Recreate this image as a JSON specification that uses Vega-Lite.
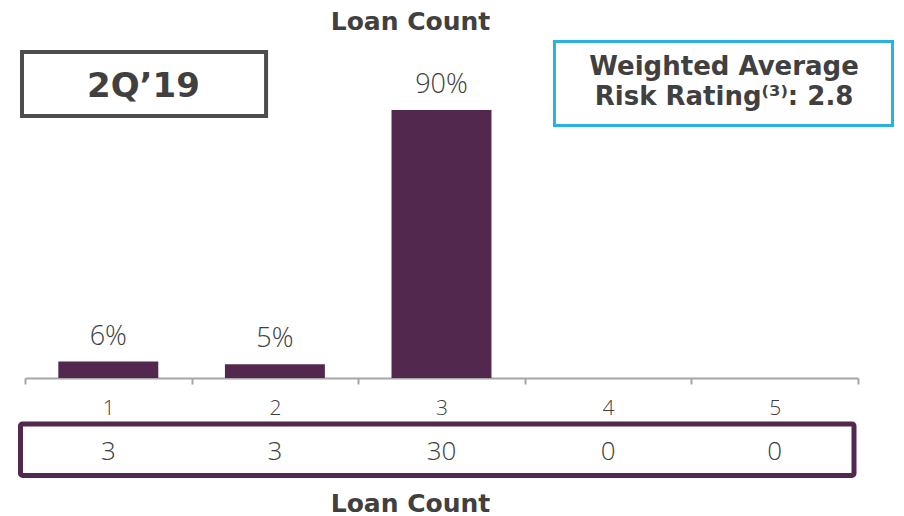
{
  "$schema": "https://vega.github.io/schema/vega-lite/v6.json",
  "width": 833,
  "height": 338,
  "autosize": {"type": "none"},
  "padding": {"left": 25, "top": 40, "right": 46, "bottom": 138},
  "background": "white",
  "title": {
    "text": "Loan Count",
    "font": "DejaVu Sans",
    "fontSize": 25,
    "fontWeight": "bold",
    "color": "#404040",
    "anchor": "middle",
    "frame": "group",
    "dx": -31,
    "offset": -15,
    "baseline": "alphabetic"
  },
  "config": {"view": {"stroke": null}},
  "layer": [
    {
      "data": {
        "values": [
          {"rating": "1", "share": 0.055, "loans": 3},
          {"rating": "2", "share": 0.046, "loans": 3},
          {"rating": "3", "share": 0.9, "loans": 30},
          {"rating": "4", "share": 0, "loans": 0},
          {"rating": "5", "share": 0, "loans": 0}
        ]
      },
      "encoding": {
        "x": {
          "field": "rating",
          "type": "ordinal",
          "scale": {"paddingInner": 0, "paddingOuter": 0},
          "axis": {
            "title": "Loan Count",
            "titleFont": "DejaVu Sans",
            "titleFontSize": 25,
            "titleFontWeight": "bold",
            "titleColor": "#404040",
            "titleX": 385,
            "titleY": 133,
            "titleBaseline": "alphabetic",
            "labelAngle": 0,
            "labelFont": "Open Sans",
            "labelFontWeight": 300,
            "labelFontSize": 21,
            "labelColor": "#404040",
            "labelPadding": 13,
            "domainColor": "#A6A6A6",
            "domainWidth": 2,
            "tickColor": "#A6A6A6",
            "tickWidth": 2,
            "tickSize": 6,
            "tickBand": "extent"
          }
        }
      },
      "layer": [
        {
          "mark": {"type": "bar", "color": "#53284F", "width": {"band": 0.6}},
          "encoding": {
            "y": {"field": "share", "type": "quantitative", "scale": {"domain": [0, 1.135], "nice": false, "zero": false}, "axis": null}
          }
        },
        {
          "transform": [{"filter": "datum.share > 0"}],
          "mark": {"type": "text", "font": "Open Sans", "fontWeight": 300, "fontSize": 27, "color": "#404040", "baseline": "alphabetic", "dy": -17},
          "encoding": {
            "y": {"field": "share", "type": "quantitative", "scale": {"domain": [0, 1.135], "nice": false, "zero": false}, "axis": null},
            "text": {"field": "share", "type": "quantitative", "format": ".0%"}
          }
        },
        {
          "mark": {"type": "text", "font": "Open Sans", "fontWeight": 300, "fontSize": 26, "color": "#404040", "baseline": "alphabetic"},
          "encoding": {
            "y": {"datum": -0.275, "type": "quantitative", "scale": {"domain": [0, 1.135], "nice": false, "zero": false}, "axis": null},
            "text": {"field": "loans", "type": "quantitative"}
          }
        }
      ]
    },
    {
      "data": {"values": [{}]},
      "layer": [
        {
          "mark": {"type": "rect", "filled": false, "stroke": "#4D4D4D", "strokeWidth": 4},
          "encoding": {
            "x": {"datum": 0.482, "type": "quantitative", "scale": {"domain": [0.5, 5.5], "nice": false, "zero": false}, "axis": null},
            "x2": {"datum": 1.947},
            "y": {"datum": 1.095, "type": "quantitative", "scale": {"domain": [0, 1.135], "nice": false, "zero": false}, "axis": null},
            "y2": {"datum": 0.88}
          }
        },
        {
          "mark": {"type": "text", "text": "2Q’19", "font": "DejaVu Sans", "fontWeight": "bold", "fontSize": 34, "color": "#404040", "baseline": "alphabetic", "align": "center"},
          "encoding": {
            "x": {"datum": 1.211, "type": "quantitative", "scale": {"domain": [0.5, 5.5], "nice": false, "zero": false}, "axis": null},
            "y": {"datum": 0.944, "type": "quantitative", "scale": {"domain": [0, 1.135], "nice": false, "zero": false}, "axis": null}
          }
        },
        {
          "mark": {"type": "rect", "filled": false, "stroke": "#2BB0E4", "strokeWidth": 3},
          "encoding": {
            "x": {"datum": 3.678, "type": "quantitative", "scale": {"domain": [0.5, 5.5], "nice": false, "zero": false}, "axis": null},
            "x2": {"datum": 5.707},
            "y": {"datum": 1.13, "type": "quantitative", "scale": {"domain": [0, 1.135], "nice": false, "zero": false}, "axis": null},
            "y2": {"datum": 0.848}
          }
        },
        {
          "mark": {"type": "text", "text": ["Weighted Average", "Risk Rating⁽³⁾: 2.8"], "lineHeight": 30, "font": "DejaVu Sans", "fontWeight": "bold", "fontSize": 26, "color": "#404040", "baseline": "alphabetic", "align": "center"},
          "encoding": {
            "x": {"datum": 4.696, "type": "quantitative", "scale": {"domain": [0.5, 5.5], "nice": false, "zero": false}, "axis": null},
            "y": {"datum": 1.0175, "type": "quantitative", "scale": {"domain": [0, 1.135], "nice": false, "zero": false}, "axis": null}
          }
        },
        {
          "mark": {"type": "rect", "filled": false, "stroke": "#53284F", "strokeWidth": 5, "cornerRadius": 2},
          "encoding": {
            "x": {"datum": 0.473, "type": "quantitative", "scale": {"domain": [0.5, 5.5], "nice": false, "zero": false}, "axis": null},
            "x2": {"datum": 5.476},
            "y": {"datum": -0.1545, "type": "quantitative", "scale": {"domain": [0, 1.135], "nice": false, "zero": false}, "axis": null},
            "y2": {"datum": -0.327}
          }
        }
      ]
    }
  ],
  "resolve": {"scale": {"x": "independent"}}
}
